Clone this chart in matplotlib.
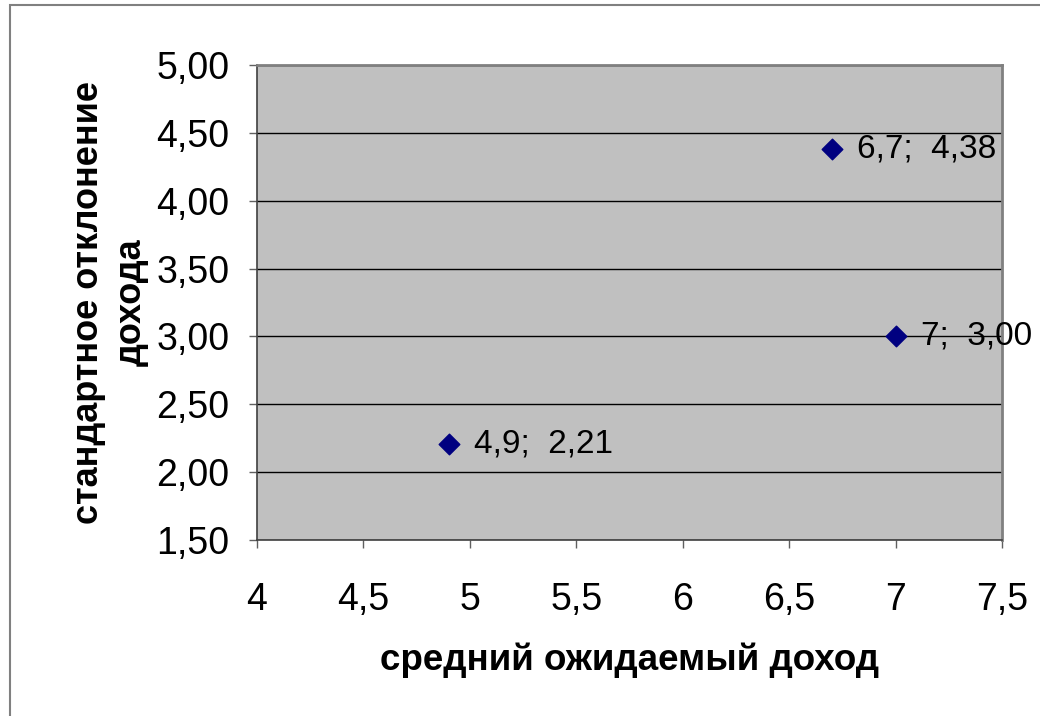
import matplotlib.pyplot as plt
from matplotlib.patches import Rectangle
from matplotlib.ticker import FuncFormatter, MultipleLocator

plt.rcParams['font.family'] = ['Liberation Sans', 'DejaVu Sans']

# expected return vs. standard deviation of return
mean_return = [4.9, 6.7, 7.0]
std_return = [2.21, 4.38, 3.00]
point_labels = ["4,9;  2,21", "6,7;  4,38", "7;  3,00"]

fig = plt.figure(figsize=(10.4, 7.16), dpi=100)
fig.patches.append(Rectangle((10 / 1040, -0.1), 1.2, 1.1 - 5 / 716, transform=fig.transFigure,
                             fill=False, edgecolor="#808080", linewidth=1.5, clip_on=False))

ax = fig.add_axes([257 / 1040, 1 - 540 / 716, 745 / 1040, 475 / 716])
ax.set_facecolor("#C0C0C0")
ax.set_xlim(4, 7.5)
ax.set_ylim(1.5, 5.0)
ax.xaxis.set_major_locator(MultipleLocator(0.5))
ax.yaxis.set_major_locator(MultipleLocator(0.5))
ax.xaxis.set_major_formatter(FuncFormatter(lambda v, p: f"{v:g}".replace(".", ",")))
ax.yaxis.set_major_formatter(FuncFormatter(lambda v, p: f"{v:.2f}".replace(".", ",")))

ax.grid(axis="y", color="black", linewidth=1.0)
ax.set_axisbelow(True)

for side in ("top", "right"):
    ax.spines[side].set_color("#808080")
    ax.spines[side].set_linewidth(2)
for side in ("left", "bottom"):
    ax.spines[side].set_color("#404040")
    ax.spines[side].set_linewidth(1.2)

ax.tick_params(direction="out", length=6, width=1, color="#606060", labelsize=27)
ax.tick_params(axis="x", pad=24)
ax.tick_params(axis="y", pad=14)

ax.scatter(mean_return, std_return, marker="D", s=110, color="#000080", zorder=3)
for x, y, lab in zip(mean_return, std_return, point_labels):
    ax.annotate(lab, (x, y), xytext=(18, 0), textcoords="offset points",
                va="center", ha="left", fontsize=24, annotation_clip=False)

ax.set_xlabel("средний ожидаемый доход", fontsize=26.5, fontweight="bold", labelpad=18)
ax.set_ylabel("стандартное отклонение\nдохода", fontsize=26, fontweight="bold",
              labelpad=5, linespacing=1.3)

fig.savefig("out.png", dpi=100)
